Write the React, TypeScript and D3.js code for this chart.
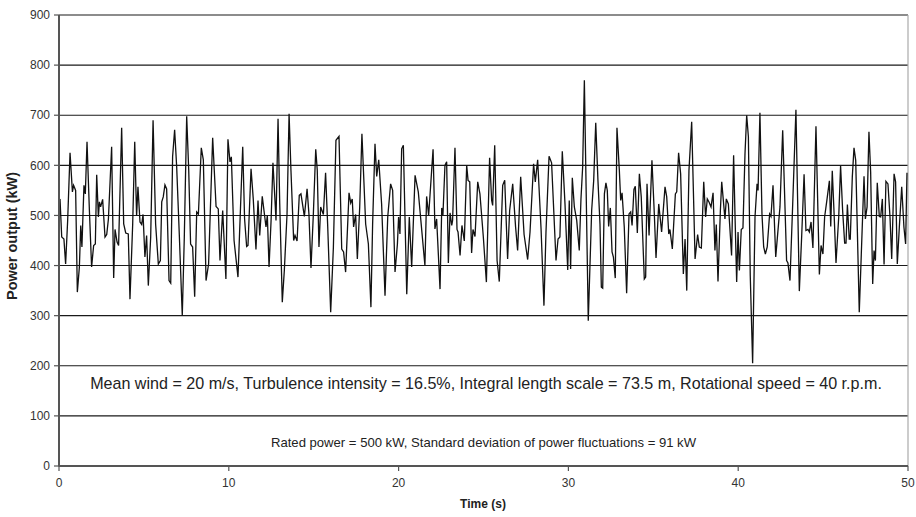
import React from "react";
import * as d3 from "d3";

const times = [
  0.0, 0.06, 0.16, 0.29, 0.39, 0.51, 0.65, 0.79, 0.86, 0.98, 1.08, 1.2, 1.28, 1.35, 1.47, 1.55, 1.65, 1.79, 1.92, 2.04,
  2.14, 2.22, 2.32, 2.38, 2.45, 2.57, 2.71, 2.81, 2.91, 3.1, 3.22, 3.3, 3.42, 3.51, 3.69, 3.81, 3.93, 4.08, 4.18, 4.34,
  4.46, 4.57, 4.65, 4.77, 4.87, 4.95, 5.06, 5.16, 5.26, 5.4, 5.54, 5.69, 5.85, 5.97, 6.05, 6.14, 6.24, 6.34, 6.48, 6.58,
  6.69, 6.81, 6.93, 7.09, 7.26, 7.38, 7.52, 7.64, 7.75, 7.87, 7.99, 8.11, 8.21, 8.38, 8.5, 8.66, 8.81, 9.05, 9.25, 9.38,
  9.48, 9.64, 9.83, 9.95, 10.07, 10.15, 10.31, 10.54, 10.82, 10.93, 11.05, 11.13, 11.31, 11.44, 11.6, 11.72, 11.82, 11.97, 12.19, 12.27,
  12.37, 12.49, 12.6, 12.72, 12.78, 12.9, 13.0, 13.15, 13.27, 13.43, 13.55, 13.66, 13.82, 13.9, 14.02, 14.15, 14.25, 14.45, 14.61, 14.72,
  14.84, 14.98, 15.12, 15.21, 15.31, 15.41, 15.57, 15.7, 15.82, 16.0, 16.16, 16.31, 16.49, 16.65, 16.76, 16.88, 17.08, 17.18, 17.27, 17.35,
  17.47, 17.57, 17.71, 17.84, 18.06, 18.22, 18.37, 18.47, 18.61, 18.71, 18.83, 19.0, 19.2, 19.36, 19.53, 19.65, 19.79, 19.93, 20.0, 20.08,
  20.18, 20.28, 20.48, 20.63, 20.77, 20.97, 21.16, 21.55, 21.65, 21.77, 22.03, 22.14, 22.24, 22.44, 22.54, 22.61, 22.73, 22.83, 22.93, 23.03,
  23.13, 23.18, 23.32, 23.44, 23.5, 23.62, 23.73, 23.87, 24.01, 24.09, 24.19, 24.3, 24.38, 24.5, 24.66, 24.79, 24.99, 25.17, 25.36, 25.48,
  25.54, 25.66, 25.8, 25.93, 26.13, 26.25, 26.42, 26.54, 26.72, 26.89, 27.01, 27.19, 27.39, 27.6, 27.74, 27.95, 28.05, 28.19, 28.39, 28.56,
  28.68, 28.86, 29.01, 29.27, 29.39, 29.5, 29.64, 29.8, 29.96, 30.05, 30.13, 30.23, 30.35, 30.49, 30.64, 30.74, 30.84, 30.94, 31.17, 31.37,
  31.49, 31.61, 31.74, 31.86, 31.94, 32.02, 32.12, 32.21, 32.29, 32.37, 32.47, 32.57, 32.65, 32.76, 32.86, 33.0, 33.08, 33.16, 33.29, 33.43,
  33.57, 33.67, 33.75, 33.86, 33.94, 34.06, 34.18, 34.29, 34.47, 34.55, 34.63, 34.75, 34.92, 35.06, 35.16, 35.32, 35.49, 35.69, 35.79, 35.91,
  35.98, 36.12, 36.3, 36.38, 36.49, 36.61, 36.77, 36.87, 36.97, 37.1, 37.26, 37.46, 37.61, 37.71, 37.83, 37.97, 38.08, 38.18, 38.28, 38.4,
  38.52, 38.63, 38.71, 38.81, 38.95, 39.03, 39.22, 39.3, 39.42, 39.61, 39.73, 39.81, 39.91, 39.99, 40.07, 40.18, 40.28, 40.4, 40.5, 40.6,
  40.71, 40.85, 40.99, 41.11, 41.17, 41.28, 41.4, 41.5, 41.6, 41.71, 41.85, 41.93, 42.05, 42.21, 42.46, 42.62, 42.85, 42.93, 43.05, 43.21,
  43.4, 43.6, 43.74, 43.88, 43.99, 44.11, 44.19, 44.29, 44.4, 44.58, 44.78, 44.88, 44.99, 45.09, 45.21, 45.37, 45.45, 45.54, 45.64, 45.76,
  45.92, 46.03, 46.15, 46.27, 46.35, 46.43, 46.54, 46.6, 46.72, 46.82, 46.92, 47.13, 47.41, 47.49, 47.59, 47.7, 47.8, 47.92, 48.0, 48.08,
  48.19, 48.31, 48.39, 48.49, 48.59, 48.7, 48.82, 48.94, 49.04, 49.18, 49.27, 49.37, 49.49, 49.63, 49.76, 49.86, 49.94,
];

const power = [
  510, 533, 457, 453, 403, 490, 625, 547, 560, 550, 347, 397, 480, 437, 560, 543, 647, 510, 397, 440,
  443, 581, 497, 527, 517, 532, 457, 462, 493, 637, 375, 472, 447, 440, 675, 483, 465, 463, 333, 483,
  647, 499, 557, 487, 482, 502, 417, 460, 360, 457, 690, 483, 403, 410, 527, 537, 561, 553, 370, 365,
  617, 671, 597, 457, 300, 457, 698, 590, 443, 437, 338, 507, 503, 635, 611, 370, 403, 655, 518, 513,
  410, 510, 373, 652, 607, 617, 450, 377, 637, 493, 438, 440, 593, 533, 432, 530, 460, 538, 477, 500,
  397, 490, 605, 530, 490, 693, 523, 327, 390, 503, 703, 590, 450, 460, 449, 540, 543, 498, 553, 503,
  395, 503, 632, 590, 437, 517, 502, 585, 483, 307, 437, 650, 658, 433, 427, 387, 545, 525, 533, 477,
  502, 413, 517, 663, 483, 443, 317, 483, 643, 578, 611, 523, 340, 497, 563, 550, 387, 443, 497, 463,
  633, 640, 343, 497, 397, 580, 547, 400, 538, 500, 632, 473, 493, 353, 515, 500, 600, 607, 405, 505,
  480, 490, 635, 472, 467, 420, 480, 449, 600, 570, 567, 425, 472, 458, 567, 543, 457, 367, 615, 530,
  520, 640, 410, 368, 560, 570, 413, 510, 563, 477, 430, 577, 462, 412, 467, 603, 567, 611, 473, 320,
  467, 618, 605, 410, 453, 457, 628, 523, 391, 530, 393, 575, 517, 490, 430, 533, 597, 770, 290, 510,
  570, 685, 570, 483, 357, 355, 543, 565, 550, 478, 515, 427, 417, 375, 675, 590, 530, 545, 477, 345,
  503, 507, 480, 552, 558, 465, 583, 537, 373, 377, 563, 460, 610, 503, 415, 523, 467, 557, 537, 463,
  472, 433, 543, 547, 625, 583, 383, 453, 350, 590, 687, 413, 462, 437, 435, 567, 497, 533, 527, 517,
  545, 430, 482, 368, 510, 567, 493, 533, 523, 420, 620, 503, 367, 467, 390, 472, 475, 623, 700, 657,
  380, 205, 497, 563, 550, 705, 503, 437, 423, 437, 503, 498, 560, 417, 517, 670, 410, 405, 370, 523,
  711, 349, 460, 582, 470, 472, 467, 487, 435, 678, 382, 440, 423, 497, 527, 569, 478, 589, 510, 405,
  497, 599, 510, 445, 445, 522, 453, 453, 577, 635, 610, 307, 578, 493, 517, 667, 587, 363, 430, 410,
  565, 498, 497, 533, 402, 568, 563, 497, 413, 583, 567, 403, 477, 557, 477, 443, 585,
];

const xTicks = [0, 10, 20, 30, 40, 50];
const yTicks = [0, 100, 200, 300, 400, 500, 600, 700, 800, 900];
const xTitle = "Time (s)";
const yTitle = "Power output (kW)";
const note1 =
  "Mean wind = 20 m/s, Turbulence intensity = 16.5%, Integral length scale = 73.5 m, Rotational speed = 40 r.p.m.";
const note2 = "Rated power = 500 kW, Standard deviation of power fluctuations = 91 kW";

const W = 916;
const H = 517;
const L = 59;
const R = 908;
const T = 15;
const B = 466;
const FONT = "'Liberation Sans', Arial, Helvetica, sans-serif";

export default function App() {
  const x = d3.scaleLinear().domain([0, 50]).range([L, R]);
  const y = d3.scaleLinear().domain([0, 900]).range([B, T]);
  const pts: [number, number][] = times.map((t, i) => [t, power[i]]);
  const line = d3
    .line<[number, number]>()
    .x((d) => x(d[0]))
    .y((d) => y(d[1]));

  return (
    <svg
      width={W}
      height={H}
      style={{ position: "absolute", left: 0, top: 0, background: "#fff", display: "block" }}
      fontFamily={FONT}
    >
      <rect x={0} y={0} width={W} height={H} fill="#fff" />
      {yTicks
        .filter((v) => v > 0)
        .map((v) => (
          <line key={"g" + v} x1={L} x2={R} y1={y(v)} y2={y(v)} stroke="#1a1a1a" strokeWidth={1.1} />
        ))}
      <line x1={R} x2={R} y1={T} y2={B} stroke="#aaa" strokeWidth={1.2} />
      <path d={line(pts) || ""} fill="none" stroke="#111" strokeWidth={1.3} strokeLinejoin="miter" />
      {/* axes */}
      <line x1={L} x2={L} y1={T} y2={B + 0.5} stroke="#555" strokeWidth={2} />
      <line x1={L} x2={R} y1={B} y2={B} stroke="#555" strokeWidth={2} />
      {yTicks.map((v) => (
        <g key={"yt" + v}>
          <line x1={L - 5} x2={L} y1={y(v)} y2={y(v)} stroke="#555" strokeWidth={1.2} />
          <text x={L - 9} y={y(v)} dy="0.35em" textAnchor="end" fontSize={12} fill="#333">
            {v}
          </text>
        </g>
      ))}
      {xTicks.map((v) => (
        <g key={"xt" + v}>
          <line x1={x(v)} x2={x(v)} y1={B} y2={B + 5} stroke="#555" strokeWidth={1.2} />
          <text x={x(v)} y={B + 21} textAnchor="middle" fontSize={12} fill="#333">
            {v}
          </text>
        </g>
      ))}
      <text x={483} y={507.5} textAnchor="middle" fontSize={12} fontWeight="bold" fill="#222">
        {xTitle}
      </text>
      <text
        transform={`translate(17, 236) rotate(-90)`}
        textAnchor="middle"
        fontSize={14.5}
        fontWeight="bold"
        fill="#222"
      >
        {yTitle}
      </text>
      <text x={486} y={389} textAnchor="middle" fontSize={16.1} fill="#222">
        {note1}
      </text>
      <text x={483.5} y={447} textAnchor="middle" fontSize={13.1} fill="#222">
        {note2}
      </text>
    </svg>
  );
}
